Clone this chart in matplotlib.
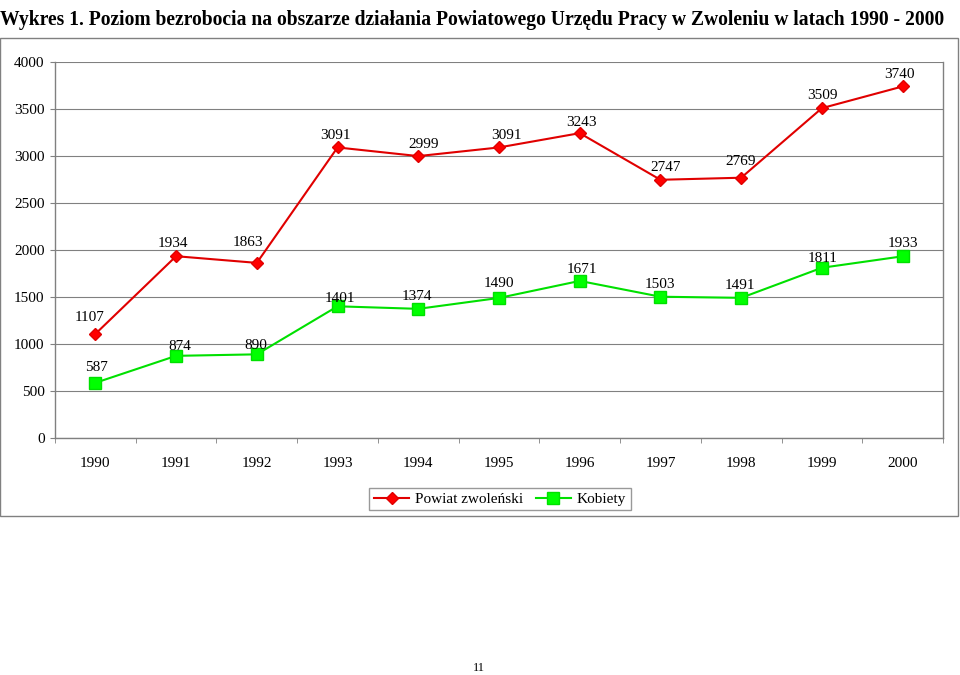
import matplotlib
matplotlib.use("Agg")
import matplotlib.pyplot as plt
import numpy as np
from matplotlib.patches import Rectangle

# Data.
years = ["1990", "1991", "1992", "1993", "1994", "1995",
         "1996", "1997", "1998", "1999", "2000"]
powiat = [1107, 1934, 1863, 3091, 2999, 3091, 3243, 2747, 2769, 3509, 3740]
kobiety = [587, 874, 890, 1401, 1374, 1490, 1671, 1503, 1491, 1811, 1933]

# Label offsets in pixels (dx, dy), as they sit in the original.
powiat_offsets = [(-6, 16), (-3, 13), (-9, 20), (-2, 12), (5, 12), (7, 12),
                  (2, 11), (5, 12), (-1, 16), (1, 13), (-3, 12)]
kobiety_offsets = [(1, 15), (4, 9), (-1, 9), (2, 8), (-1, 12), (0, 14),
                   (2, 11), (-1, 12), (-1, 12), (1, 9), (0, 13)]

plt.rcParams["font.family"] = ["Liberation Serif", "DejaVu Serif"]

fig = plt.figure(figsize=(9.6, 6.75), dpi=100)

# Title at the top of the page.
fig.text(0.0, 0.985, "Wykres 1. Poziom bezrobocia na obszarze działania "
         "Powiatowego Urzędu Pracy w Zwoleniu w latach 1990 - 2000",
         fontsize=14.1, fontweight="bold", ha="left", va="top")

# Outer chart frame.
fig.patches.append(Rectangle((0.0, 1 - 516 / 675), 958 / 960, 478 / 675,
                             transform=fig.transFigure, fill=False,
                             edgecolor="#808080", linewidth=1.0))

ax = fig.add_axes([55 / 960, 1 - 438 / 675, 888 / 960, 376 / 675])

x = np.arange(len(years))
ax.plot(x, powiat, color="#e00000", marker="D", markersize=6,
        markerfacecolor="#ff0000", markeredgecolor="#e00000",
        linewidth=1.5, label="Powiat zwoleński", zorder=3)
ax.plot(x, kobiety, color="#00e000", marker="s", markersize=8,
        markerfacecolor="#00ff00", markeredgecolor="#00e000",
        linewidth=1.5, label="Kobiety", zorder=3)

for xi, v, (dx, dy) in zip(x, powiat, powiat_offsets):
    ax.annotate(str(v), (xi, v), xytext=(dx, dy), textcoords="offset pixels",
                ha="center", va="center", fontsize=11)
for xi, v, (dx, dy) in zip(x, kobiety, kobiety_offsets):
    ax.annotate(str(v), (xi, v), xytext=(dx, dy), textcoords="offset pixels",
                ha="center", va="center", fontsize=11)

# Axes styling.
ax.set_xlim(-0.5, len(years) - 0.5)
ax.set_ylim(0, 4000)
ax.set_yticks(np.arange(0, 4001, 500))
ax.set_xticks(x)
ax.set_xticklabels(years)
ax.set_xticks(np.arange(-0.5, len(years)), minor=True)
ax.tick_params(axis="x", which="major", length=0, pad=14, labelsize=11)
ax.tick_params(axis="x", which="minor", length=3.5, color="#808080")
ax.tick_params(axis="y", length=3.5, color="#808080", labelsize=11, pad=4)
ax.grid(axis="y", color="#808080", linewidth=0.8)
ax.set_axisbelow(True)
ax.spines["top"].set_visible(False)
for side in ["left", "bottom", "right"]:
    ax.spines[side].set_color("#808080")
    ax.spines[side].set_linewidth(1.0)

leg = fig.legend(loc="center", bbox_to_anchor=(500 / 960, 1 - 499 / 675),
                 ncol=2, fontsize=11, frameon=True, fancybox=False,
                 edgecolor="#808080", handlelength=2.3, columnspacing=0.8,
                 handletextpad=0.4, borderpad=0.3, borderaxespad=0)
leg.get_frame().set_linewidth(1.0)

# Page number.
fig.text(479 / 960, 1 - 668 / 675, "11", fontsize=9, ha="center", va="center")

plt.savefig("out.png", dpi=100)
